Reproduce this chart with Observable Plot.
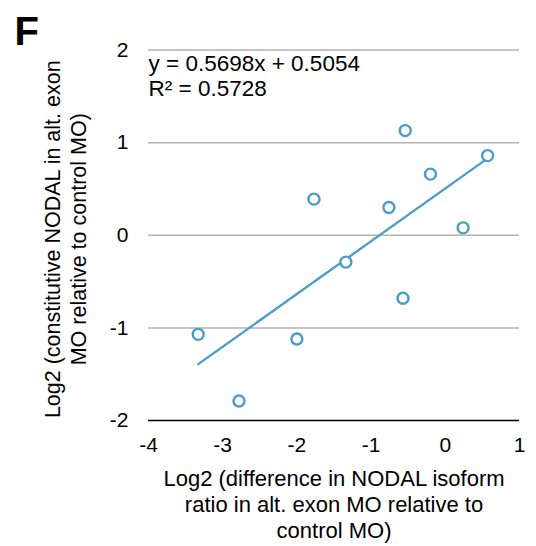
<!DOCTYPE html>
<html>
<head>
<meta charset="utf-8">
<script src="https://cdn.jsdelivr.net/npm/d3@7"></script>
<script src="https://cdn.jsdelivr.net/npm/@observablehq/plot@0.6"></script>
<style>
  html, body { margin: 0; padding: 0; background: #fff; }
  svg { display: block; }
</style>
</head>
<body>
<div id="chart"></div>
<script>
// Log2 change in NODAL isoform ratio vs. constitutive NODAL, per embryo batch
const isoformRatioLog2 = [-3.33, -2.78, -2.00, -1.77, -1.34, -0.76, -0.54, -0.57, -0.20, 0.24, 0.57];
const constitutiveLog2 = [-1.07, -1.79, -1.12, 0.39, -0.29, 0.30, 1.13, -0.68, 0.66, 0.08, 0.86];

// Linear fit reported on the chart
const slope = 0.5698;
const intercept = 0.5054;
const rSquared = 0.5728;

const xTicks = [-4, -3, -2, -1, 0, 1];
const yTicks = [-2, -1, 0, 1, 2];
const gridValues = [-1, 0, 1, 2];

const panelLetter = "F";
const xLabel = "Log2 (difference in NODAL isoform\nratio in alt. exon MO relative to\ncontrol MO)";
const yLabel = "Log2 (constitutive NODAL in alt. exon\nMO relative to control MO)";

const points = isoformRatioLog2.map((x, i) => ({x, y: constitutiveLog2[i]}));
const [xMin, xMax] = d3.extent(isoformRatioLog2);
const fitLine = [xMin, xMax].map(x => ({x, y: slope * x + intercept}));
const equation = `y = ${slope}x + ${intercept}\nR² = ${rSquared}`;

const blue = "#4b9cca";
const font = "'Liberation Sans', Arial, Helvetica, sans-serif";
const signed = d => d < 0 ? "-" + Math.abs(d) : String(d);

const chart = Plot.plot({
  width: 536,
  height: 546,
  marginLeft: 148,
  marginRight: 17,
  marginTop: 49.5,
  marginBottom: 126,
  style: {fontFamily: font, fontSize: "21px", color: "#000", background: "#fff", overflow: "visible"},
  x: {domain: [-4, 1]},
  y: {domain: [-2, 2]},
  marks: [
    Plot.ruleY(gridValues, {stroke: "#b3b3b3", strokeWidth: 1.5}),
    Plot.ruleY([-2], {stroke: "#000", strokeWidth: 1.3}),
    Plot.axisX({ticks: xTicks, tickSize: 0, tickPadding: 17, label: null, fontSize: 21, tickFormat: signed}),
    Plot.axisY({ticks: yTicks, tickSize: 0, tickPadding: 20, label: null, fontSize: 21, tickFormat: signed}),
    Plot.line(fitLine, {x: "x", y: "y", stroke: blue, strokeWidth: 2.3}),
    Plot.dot(points, {x: "x", y: "y", r: 5.5, stroke: blue, strokeWidth: 2.4, fill: "#fff"}),
    Plot.text([equation], {frameAnchor: "top-left", textAnchor: "start", lineAnchor: "top",
      lineHeight: 1.12, dy: 3, fontSize: 22.5, fill: "#000"}),
    Plot.text([xLabel], {frameAnchor: "bottom", textAnchor: "middle", lineAnchor: "top",
      lineHeight: 1.18, dy: 47, fontSize: 22, fill: "#000"}),
    Plot.text([yLabel], {frameAnchor: "left", textAnchor: "middle", lineAnchor: "middle",
      rotate: -90, lineHeight: 1.22, dx: -84, dy: 4, fontSize: 21.5, fill: "#000"}),
    Plot.text([panelLetter], {frameAnchor: "top-left", textAnchor: "start", lineAnchor: "top",
      dx: -134, dy: -33, fontSize: 40, fontWeight: "bold", fill: "#000"})
  ]
});

document.getElementById("chart").appendChild(chart);
</script>
</body>
</html>
